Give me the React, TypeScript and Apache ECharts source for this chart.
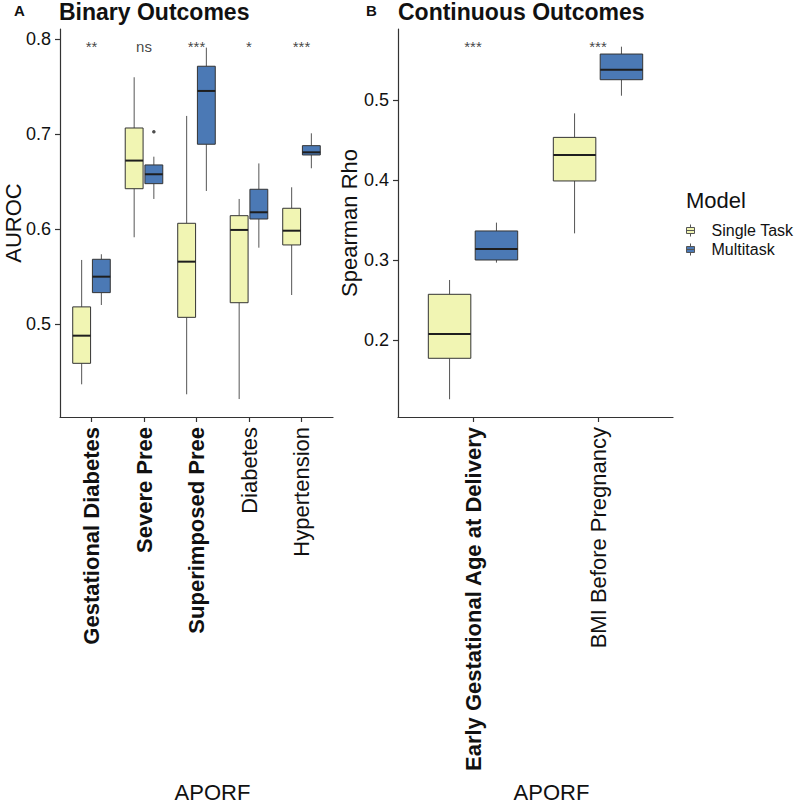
import React, { useEffect, useRef } from 'react';
import * as echarts from 'echarts';

// ---------- data ----------
const CATS_A = ['Gestational Diabetes', 'Severe Pree', 'Superimposed Pree', 'Diabetes', 'Hypertension'];
const BOLD_A = [true, true, true, false, false];
// [min, q1, median, q3, max]
const SINGLE_A = [
  [0.4365, 0.4586, 0.4877, 0.518, 0.5674],
  [0.5913, 0.6424, 0.672, 0.7063, 0.7597],
  [0.426, 0.507, 0.5656, 0.606, 0.719],
  [0.421, 0.5224, 0.599, 0.614, 0.6316],
  [0.5305, 0.5832, 0.5982, 0.6218, 0.6439],
];
const MULTI_A = [
  [0.52, 0.533, 0.5498, 0.5681, 0.5734],
  [0.6316, 0.6477, 0.6576, 0.6674, 0.6761],
  [0.64, 0.6892, 0.7453, 0.7713, 0.7909],
  [0.5803, 0.6105, 0.6176, 0.6418, 0.669],
  [0.6639, 0.6779, 0.6807, 0.6877, 0.7007],
];
const OUTLIERS_MULTI_A = [[1, 0.7024]];
const SIG_A = ['**', 'ns', '***', '*', '***'];
const SIG_Y_A = 0.7926;
const TICKS_A = [0.5, 0.6, 0.7, 0.8];
const RANGE_A = [0.4021, 0.8105];

const CATS_B = ['Early Gestational Age at Delivery', 'BMI Before Pregnancy'];
const BOLD_B = [true, false];
const SINGLE_B = [
  [0.1259, 0.1771, 0.2075, 0.2571, 0.275],
  [0.3333, 0.3988, 0.4313, 0.4533, 0.4833],
];
const MULTI_B = [
  [0.2967, 0.3, 0.3138, 0.3363, 0.3467],
  [0.5054, 0.5254, 0.5379, 0.5575, 0.5667],
];
const SIG_B = ['***', '***'];
const SIG_Y_B = 0.5675;
const TICKS_B = [0.2, 0.3, 0.4, 0.5];
const RANGE_B = [0.1037, 0.5888];

// ---------- style ----------
const FONT = '"Liberation Sans", Arial, Helvetica, sans-serif';
const YELLOW = '#F1F5B3';
const BLUE = '#4B79B5';
const BORDER = '#333333';
const WHISKER = '#555555';
const MEDIAN = '#1e1e1e';
const AXIS = '#333333';
const DODGE = 0.1875;
const HALF = 0.17;

const makeRender = (offset: number, fill: string) => (params: any, api: any) => {
  const x = api.value(0) + offset;
  const lo = api.value(1), q1 = api.value(2), med = api.value(3), q3 = api.value(4), hi = api.value(5);
  const tl = api.coord([x - HALF, q3]);
  const br = api.coord([x + HALF, q1]);
  const m = api.coord([x, med]);
  const t = api.coord([x, hi]);
  const b = api.coord([x, lo]);
  return {
    type: 'group',
    children: [
      { type: 'line', shape: { x1: m[0], y1: t[1], x2: m[0], y2: tl[1] }, style: { stroke: WHISKER, lineWidth: 1 } },
      { type: 'line', shape: { x1: m[0], y1: br[1], x2: m[0], y2: b[1] }, style: { stroke: WHISKER, lineWidth: 1 } },
      { type: 'rect', shape: { x: tl[0], y: tl[1], width: br[0] - tl[0], height: br[1] - tl[1] }, style: { fill, stroke: BORDER, lineWidth: 1 } },
      { type: 'line', shape: { x1: tl[0], y1: m[1], x2: br[0], y2: m[1] }, style: { stroke: MEDIAN, lineWidth: 2 } },
    ],
  };
};

const xAxisFor = (cats: string[], bold: boolean[], gridIndex: number) => ({
  type: 'value',
  gridIndex,
  min: -0.6,
  max: cats.length - 1 + 0.6,
  splitLine: { show: false },
  axisLine: { show: true, onZero: false, lineStyle: { color: AXIS, width: 1.2 } },
  axisTick: { show: true, length: 5, lineStyle: { color: AXIS, width: 1.2 }, customValues: cats.map((_, i) => i) },
  axisLabel: {
    customValues: cats.map((_, i) => i),
    rotate: 90,
    margin: 10,
    color: '#111',
    formatter: (v: number) => {
      const i = Math.round(v);
      return bold[i] ? `{b|${cats[i]}}` : `{n|${cats[i]}}`;
    },
    rich: {
      b: { fontWeight: 'bold', fontSize: 22, fontFamily: FONT, color: '#111' },
      n: { fontWeight: 'normal', fontSize: 22, fontFamily: FONT, color: '#111' },
    },
  },
  name: 'APORF',
  nameLocation: 'middle',
  nameGap: 364,
  nameMoveOverlap: false,
  nameTextStyle: { fontSize: 22, fontFamily: FONT, color: '#111', padding: [0, 0, 0, 32] },
});

const yAxisFor = (ticks: number[], range: number[], name: string, gap: number, gridIndex: number) => ({
  type: 'value',
  gridIndex,
  min: range[0],
  max: range[1],
  splitLine: { show: false },
  axisLine: { show: true, onZero: false, lineStyle: { color: AXIS, width: 1.2 } },
  axisTick: { show: true, length: 5, lineStyle: { color: AXIS, width: 1.2 }, customValues: ticks },
  axisLabel: {
    customValues: ticks,
    margin: 9,
    fontSize: 18,
    fontFamily: FONT,
    color: '#111',
    formatter: (v: number) => v.toFixed(1),
  },
  name,
  nameLocation: 'middle',
  nameGap: gap,
  nameMoveOverlap: false,
  nameTextStyle: { fontSize: 22, fontFamily: FONT, color: '#111' },
});

const boxSeries = (name: string, rows: number[][], offset: number, fill: string, axis: number) => ({
  type: 'custom',
  name,
  xAxisIndex: axis,
  yAxisIndex: axis,
  renderItem: makeRender(offset, fill),
  encode: { x: 0, y: [1, 2, 3, 4, 5] },
  itemStyle: { color: fill },
  data: rows.map((r, i) => [i, ...r]),
  z: 2,
});

const sigSeries = (labels: string[], y: number, axis: number) => ({
  type: 'scatter',
  xAxisIndex: axis,
  yAxisIndex: axis,
  symbolSize: 0,
  silent: true,
  data: labels.map((_, i) => [i, y]),
  label: {
    show: true,
    position: 'inside',
    formatter: (p: any) => labels[p.dataIndex],
    fontSize: 15,
    fontFamily: FONT,
    color: '#111',
  },
  z: 3,
});

const LEGEND_ICON = 'path://M0,3H8V9H0Z M4,0V3 M4,9V12 M0,6H8';

const option: any = {
  animation: false,
  backgroundColor: '#ffffff',
  textStyle: { fontFamily: FONT },
  title: [
    { text: 'A', left: 14, top: 3, padding: 0, textStyle: { fontSize: 15, fontWeight: 'bold', color: '#111', fontFamily: FONT } },
    { text: 'Binary Outcomes', left: 59, top: 0, padding: 0, textStyle: { fontSize: 23, fontWeight: 'bold', color: '#111', fontFamily: FONT } },
    { text: 'B', left: 366, top: 3, padding: 0, textStyle: { fontSize: 15, fontWeight: 'bold', color: '#111', fontFamily: FONT } },
    { text: 'Continuous Outcomes', left: 398, top: 0, padding: 0, textStyle: { fontSize: 23, fontWeight: 'bold', color: '#111', fontFamily: FONT } },
    { text: 'Model', left: 686, top: 189, padding: 0, textStyle: { fontSize: 22, fontWeight: 'normal', color: '#111', fontFamily: FONT } },
  ],
  legend: {
    orient: 'vertical',
    left: 686,
    top: 222,
    itemWidth: 8,
    itemHeight: 12,
    itemGap: 2,
    selectedMode: false,
    padding: 0,
    textStyle: { fontSize: 16, lineHeight: 17, fontFamily: FONT, color: '#111', padding: [0, 0, 0, 12] },
    data: [
      { name: 'Single Task', icon: LEGEND_ICON, itemStyle: { color: YELLOW, borderColor: WHISKER, borderWidth: 1 } },
      { name: 'Multitask', icon: LEGEND_ICON, itemStyle: { color: BLUE, borderColor: WHISKER, borderWidth: 1 } },
    ],
  },
  grid: [
    { left: 60, top: 29, width: 273, height: 388, containLabel: false, outerBoundsMode: 'none' },
    { left: 398, top: 29, width: 275, height: 388, containLabel: false, outerBoundsMode: 'none' },
  ],
  xAxis: [xAxisFor(CATS_A, BOLD_A, 0), xAxisFor(CATS_B, BOLD_B, 1)],
  yAxis: [
    yAxisFor(TICKS_A, RANGE_A, 'AUROC', 36, 0),
    yAxisFor(TICKS_B, RANGE_B, 'Spearman Rho', 38, 1),
  ],
  series: [
    boxSeries('Single Task', SINGLE_A, -DODGE, YELLOW, 0),
    boxSeries('Multitask', MULTI_A, DODGE, BLUE, 0),
    {
      type: 'scatter',
      name: 'Multitask',
      xAxisIndex: 0,
      yAxisIndex: 0,
      symbol: 'circle',
      symbolSize: 3.5,
      itemStyle: { color: '#222' },
      data: OUTLIERS_MULTI_A.map(([c, v]) => [c + DODGE, v]),
      z: 3,
    },
    sigSeries(SIG_A, SIG_Y_A, 0),
    boxSeries('Single Task', SINGLE_B, -DODGE, YELLOW, 1),
    boxSeries('Multitask', MULTI_B, DODGE, BLUE, 1),
    sigSeries(SIG_B, SIG_Y_B, 1),
  ],
};

export default function App() {
  const ref = useRef<HTMLDivElement>(null);
  useEffect(() => {
    const chart = echarts.init(ref.current as HTMLDivElement, null, { renderer: 'svg' });
    chart.setOption(option);
    return () => chart.dispose();
  }, []);
  return (
    <div
      ref={ref}
      style={{ position: 'fixed', left: 0, top: 0, width: 810, height: 806, background: '#ffffff' }}
    />
  );
}
